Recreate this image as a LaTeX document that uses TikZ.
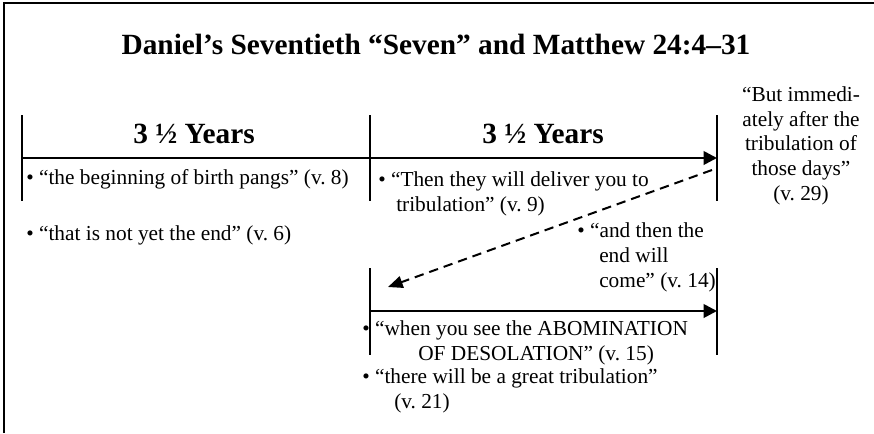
\documentclass[tikz,border=0pt]{standalone}
\usepackage{fontspec}
\setmainfont{Liberation Serif}
\usepackage{tikz}
\usetikzlibrary{positioning, arrows.meta}

\begin{document}
\begin{tikzpicture}[
    x=0.75pt, y=-0.75pt,
    every node/.style={inner sep=0pt, font=\fontsize{16}{18.4}\selectfont},
    note/.style={anchor=base west, align=left},
    heading/.style={anchor=base, font=\bfseries\fontsize{22}{26}\selectfont},
    tick/.style={line width=1.5pt},
    timeline/.style={line width=2pt, -{Triangle[length=10pt, width=10pt]}},
    jump/.style={line width=1.5pt, dash pattern=on 7pt off 4.5pt, -{Triangle[length=11pt, width=9pt]}}
]
\useasboundingbox (0,0) rectangle (874,433);
% frame
\draw[line width=1.5pt] (4,433) -- (4,3) -- (874,3);

\node[heading] (title) at (436,54) {Daniel’s Seventieth “Seven” and Matthew 24:4–31};

% first week half and second half
\coordinate (startA) at (22,158);
\coordinate (midA) at (370,158);
\coordinate (endA) at (717,158);
\draw[tick] (22,115) -- (22,201);
\draw[tick] (370,115) -- (370,201);
\draw[tick] (717,115) -- (717,201);
\draw[timeline] (startA) -- (endA);
\node[heading] (half1) at (194,143) {3 ½ Years};
\node[heading] (half2) at (543,143) {3 ½ Years};

% lower timeline
\coordinate (startB) at (370,311);
\coordinate (endB) at (717,311);
\draw[tick] (370,268) -- (370,355);
\draw[tick] (717,268) -- (717,355);
\draw[timeline] (startB) -- (endB);

% jump back
\coordinate (jumpFrom) at (712,170);
\coordinate (jumpTo) at (388,287);
\draw[jump] (jumpFrom) -- (jumpTo);

% texts (base = last line)
\node[note] (pangs) at (26,184) {• “the beginning of birth pangs” (v.~8)};
\node[note] (notend) at (26,240) {• “that is not yet the end” (v.~6)};
\node[note] (deliver) at (378,211) {• “Then they will deliver you to\\\hspace*{13.5pt}tribulation” (v.~9)};
\node[note] (endcome) at (577,287) {• “and then the\\\hspace*{16.5pt}end will\\\hspace*{16.5pt}come” (v.~14)};
\node[note] (abom) at (362,360) {• “when you see the ABOMINATION\\\hspace*{42pt}OF DESOLATION” (v.~15)};
\node[note] (great) at (362,408) {• “there will be a great tribulation”\\\hspace*{24pt}(v.~21)};
\node[anchor=base, align=center] (immed) at (801,200) {“But immedi-\\ately after the\\tribulation of\\those days”\\(v.~29)};
\end{tikzpicture}
\end{document}
